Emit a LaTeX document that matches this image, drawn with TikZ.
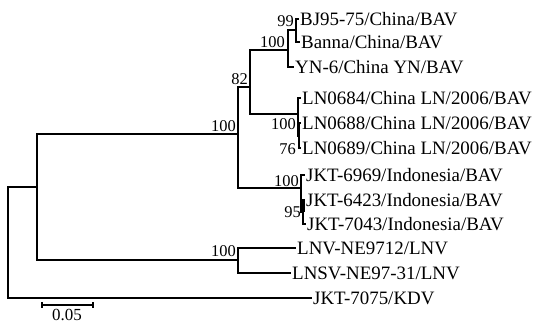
\documentclass[tikz,border=0pt]{standalone}
\usepackage{fontspec}
\setmainfont{Liberation Serif}
\begin{document}
\begin{tikzpicture}[x=1bp,y=-1bp,
  br/.style={line width=1.5bp, line cap=rect},
  leaf/.style={anchor=west, inner xsep=2bp, inner ysep=0pt, font=\fontsize{19}{20}\selectfont},
  bs/.style={inner sep=1bp, font=\fontsize{16.5}{17}\selectfont}]
\useasboundingbox (0,0) rectangle (533,323);
% internal nodes
\coordinate (root) at (8,187);
\coordinate (A) at (37,187);
\coordinate (B) at (238,134);
\coordinate (C) at (250,87);
\coordinate (D) at (288,50);
\coordinate (E) at (296,30);
\coordinate (F) at (298,114);
\coordinate (G) at (299,136);
\coordinate (H) at (301,188);
\coordinate (I) at (303,212);
\coordinate (L) at (238,260);
% leaves
\node[leaf] (bj) at (298,19) {BJ95-75/China/BAV};
\node[leaf] (banna) at (299,42) {Banna/China/BAV};
\node[leaf] (yn) at (293,67) {YN-6/China YN/BAV};
\node[leaf] (ln84) at (300,98) {LN0684/China LN/2006/BAV};
\node[leaf] (ln88) at (300,123) {LN0688/China LN/2006/BAV};
\node[leaf] (ln89) at (300,148) {LN0689/China LN/2006/BAV};
\node[leaf] (j69) at (304,175) {JKT-6969/Indonesia/BAV};
\node[leaf] (j23) at (304,200) {JKT-6423/Indonesia/BAV};
\node[leaf] (j43) at (305,224) {JKT-7043/Indonesia/BAV};
\node[leaf] (lnv) at (295,248) {LNV-NE9712/LNV};
\node[leaf] (lnsv) at (290,273) {LNSV-NE97-31/LNV};
\node[leaf] (kdv) at (311,298) {JKT-7075/KDV};
% branches
\draw[br] (root) |- (A);
\draw[br] (root) |- (kdv.west);
\draw[br] (A) |- (B);
\draw[br] (A) |- (L);
\draw[br] (B) |- (C);
\draw[br] (B) |- (H);
\draw[br] (C) |- (D);
\draw[br] (C) |- (F);
\draw[br] (D) |- (E);
\draw[br] (D) |- (yn.west);
\draw[br] (E) |- (bj.west);
\draw[br] (E) |- (banna.west);
\draw[br] (F) |- (ln84.west);
\draw[br] (F) |- (G);
\draw[br] (G) |- (ln88.west);
\draw[br] (G) |- (ln89.west);
\draw[br] (H) |- (j69.west);
\draw[br] (H) |- (I);
\draw[br] (I) |- (j23.west);
\draw[br] (I) |- (j43.west);
\draw[line width=3bp] (I) -- ++(0,-12);
\draw[br] (L) |- (lnv.west);
\draw[br] (L) |- (lnsv.west);
% bootstrap values
\node[bs, anchor=east] (b99) at (295,21) {99};
\node[bs, anchor=south east] (b100d) at (286,49) {100};
\node[bs, anchor=south east] (b82) at (249,86) {82};
\node[bs, anchor=south east] (b100b) at (237,133) {100};
\node[bs, anchor=east] (b100f) at (297,124) {100};
\node[bs, anchor=east] (b76) at (297,149) {76};
\node[bs, anchor=east] (b100h) at (300,181) {100};
\node[bs, anchor=east] (b95) at (302,212) {95};
\node[bs, anchor=east] (b100l) at (237,251) {100};
% scale bar
\coordinate (s1) at (42,305);
\coordinate (s2) at (93,305);
\draw[br] (s1) -- (s2);
\draw[br] (s1) ++(0,-2) -- ++(0,4);
\draw[br] (s2) ++(0,-2) -- ++(0,4);
\node[bs, anchor=north, font=\fontsize{17}{17}\selectfont] (sl) at (67,308) {0.05};
\end{tikzpicture}
\end{document}
